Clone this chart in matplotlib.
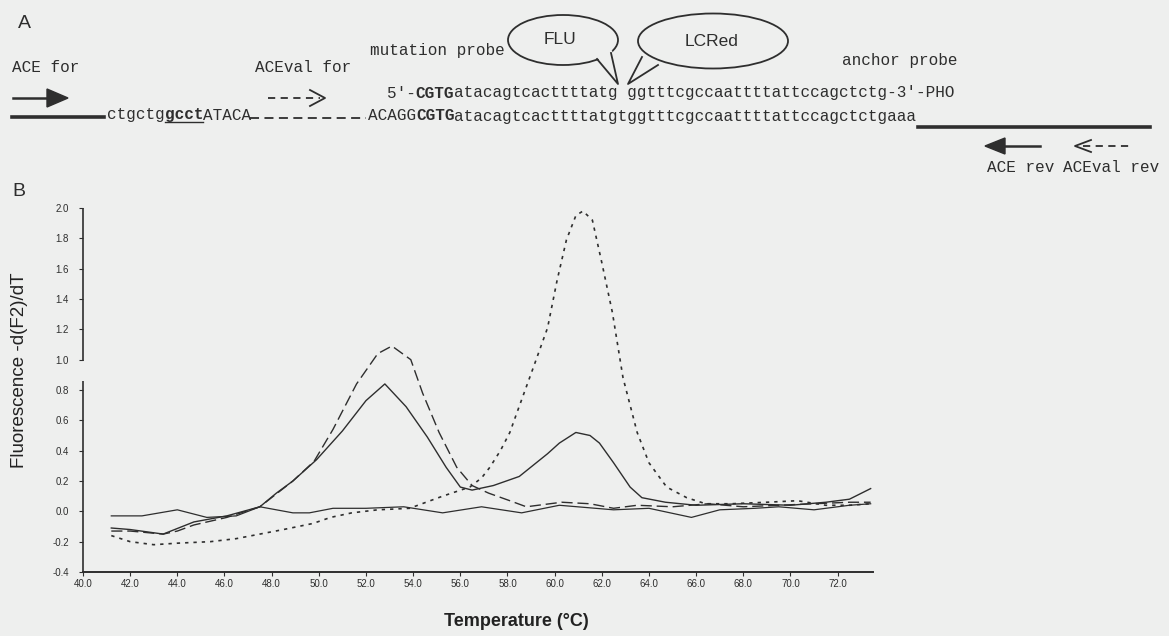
import matplotlib
matplotlib.use("Agg")
import matplotlib.pyplot as plt
from matplotlib.patches import Ellipse, Polygon

# ---------------- data ----------------
het_T = [41.2, 42.0, 43.4, 44.7, 46.1, 47.5, 48.2, 48.9, 49.9, 51.0, 52.0, 52.8, 53.7, 54.6, 55.4,
         56.0, 56.5, 57.4, 58.5, 59.7, 60.2, 60.9, 61.5, 61.9, 62.5, 63.2, 63.7, 64.7, 66.0, 68.0,
         70.0, 71.5, 72.5, 73.4]
het_v = [-0.11, -0.12, -0.15, -0.07, -0.03, 0.03, 0.12, 0.20, 0.34, 0.53, 0.73, 0.84, 0.69, 0.49, 0.29,
         0.16, 0.14, 0.17, 0.23, 0.38, 0.45, 0.52, 0.50, 0.45, 0.32, 0.16, 0.09, 0.06, 0.04, 0.05,
         0.04, 0.06, 0.08, 0.15]

mut_T = [41.2, 42.0, 43.4, 44.0, 44.7, 46.1, 47.5, 48.9, 49.8, 50.6, 51.6, 52.5, 53.1, 53.9, 54.4,
         55.1, 55.85, 56.5, 57.2, 58.1, 58.8, 60.3, 61.5, 62.5, 63.5, 65.0, 66.5, 68.0, 69.5, 71.0,
         72.5, 73.4]
mut_v = [-0.13, -0.13, -0.15, -0.13, -0.09, -0.04, 0.03, 0.20, 0.33, 0.54, 0.84, 1.04, 1.09, 1.00, 0.78,
         0.52, 0.29, 0.17, 0.12, 0.07, 0.03, 0.06, 0.05, 0.02, 0.04, 0.03, 0.05, 0.03, 0.04, 0.05,
         0.06, 0.06]

wt_T = [41.2, 42.0, 43.0, 44.0, 45.4, 46.5, 47.5, 48.5, 49.75, 50.5, 51.4, 52.5, 53.85, 55.25, 56.4,
        56.9, 57.25, 57.7, 58.1, 58.4, 59.1, 59.7, 60.1, 60.5, 60.9, 61.2, 61.6, 62.0, 62.45, 62.9,
        63.5, 64.0, 64.75, 65.6, 66.4, 67.5, 69.0, 70.3, 71.5, 72.5, 73.4]
wt_v = [-0.16, -0.20, -0.22, -0.21, -0.20, -0.18, -0.15, -0.12, -0.08, -0.04, -0.01, 0.01, 0.02, 0.10, 0.16,
        0.22, 0.29, 0.40, 0.52, 0.65, 0.95, 1.21, 1.52, 1.79, 1.95, 1.98, 1.92, 1.64, 1.31, 0.88,
        0.52, 0.32, 0.16, 0.09, 0.05, 0.05, 0.06, 0.07, 0.04, 0.04, 0.05]

ntc_T = [41.2, 42.5, 44.0, 45.25, 46.5, 47.5, 48.9, 49.6, 50.6, 52.0, 53.6, 55.25, 56.9, 58.6, 60.2,
         62.5, 64.0, 65.8, 67.0, 68.5, 69.5, 71.0, 72.5, 73.4]
ntc_v = [-0.03, -0.03, 0.01, -0.04, -0.03, 0.03, -0.01, -0.01, 0.02, 0.02, 0.03, -0.01, 0.03, -0.01, 0.04,
         0.01, 0.02, -0.04, 0.01, 0.02, 0.03, 0.01, 0.04, 0.05]

x_ticks = [40.0, 42.0, 44.0, 46.0, 48.0, 50.0, 52.0, 54.0, 56.0, 58.0, 60.0, 62.0, 64.0, 66.0, 68.0, 70.0, 72.0]
y_ticks = [-0.4, -0.2, 0.0, 0.2, 0.4, 0.6, 0.8, 1.0, 1.2, 1.4, 1.6, 1.8, 2.0]

BG = "#eeefee"
INK = "#2e2e2e"
W, H = 1169, 636

fig = plt.figure(figsize=(W / 100, H / 100), dpi=100, facecolor=BG)

# ---------------- panel B: melting curves ----------------
ax = fig.add_axes([83 / W, 1 - 572 / H, (873 - 83) / W, (572 - 208) / H])
ax.set_facecolor("none")
ax.plot(het_T, het_v, color=INK, lw=1.0, ls="-")
ax.plot(mut_T, mut_v, color=INK, lw=1.0, dashes=(8, 3.5))
ax.plot(wt_T, wt_v, color=INK, lw=1.2, dashes=(2.0, 3.0))
ax.plot(ntc_T, ntc_v, color=INK, lw=0.9, ls="-")

ax.set_xlim(40, 73.5)
ax.set_ylim(-0.4, 2.0)
for s in ["top", "right", "left"]:
    ax.spines[s].set_visible(False)
ax.spines["bottom"].set_linewidth(1.4)
ax.spines["bottom"].set_color(INK)
# broken y axis line
ax.plot([40, 40], [-0.4, 0.86], color=INK, lw=1.2, clip_on=False, solid_capstyle="butt")
ax.plot([40, 40], [0.99, 2.0], color=INK, lw=1.2, clip_on=False, solid_capstyle="butt")

ax.set_xticks(x_ticks)
ax.set_xticklabels([f"{t:.1f}" for t in x_ticks])
ax.set_yticks(y_ticks)
ax.set_yticklabels([f"{t:.1f}" for t in y_ticks])
ax.tick_params(axis="both", labelsize=7, colors=INK, width=0.8)
ax.tick_params(axis="y", length=3, pad=7)
ax.tick_params(axis="x", length=3, pad=2)
for lab in ax.get_xticklabels() + ax.get_yticklabels():
    lab.set_family("Liberation Sans")

fig.text(20 / W, 1 - 370 / H, "Fluorescence -d(F2)/dT", rotation=90, ha="center", va="center",
         fontsize=13.5, family="Liberation Sans", color="#222222")
fig.text(516 / W, 1 - 622 / H, "Temperature (\u00b0C)", ha="center", va="center",
         fontsize=13, family="Liberation Sans", fontweight="bold", color="#222222")

# ---------------- panel A: schematic (pixel coordinates) ----------------
axd = fig.add_axes([0, 0, 1, 1])
axd.set_xlim(0, W)
axd.set_ylim(H, 0)
axd.axis("off")
axd.set_facecolor("none")

FS = 11.5
CW = 0.6 * FS * 100 / 72  # monospace advance in pixels
MONO = "Liberation Mono"


def seq(x, y, parts, fs=FS):
    cx = x
    for s, bold, under in parts:
        axd.text(cx, y, s, family=MONO, fontsize=fs, fontweight="bold" if bold else "normal",
                 ha="left", va="center", color=INK)
        if under:
            axd.plot([cx, cx + len(s) * CW], [y + 7, y + 7], color=INK, lw=1.0)
        cx += len(s) * CW
    return cx


axd.text(18, 23, "A", family="Liberation Sans", fontsize=14, ha="left", va="center", color=INK)
axd.text(12, 191, "B", family="Liberation Sans", fontsize=14, ha="left", va="center", color=INK)

# ACE for
seq(12, 68, [("ACE for", False, False)])
axd.plot([13, 50], [98, 98], color=INK, lw=1.8)
axd.add_patch(Polygon([[47, 89], [68, 98], [47, 107]], closed=True, color=INK))
axd.plot([12, 104], [117, 117], color=INK, lw=2.6)
seq(107, 115, [("ctgctg", False, False), ("gcct", True, True), ("ATACA", False, False)])

# ACEval for
seq(255, 68, [("ACEval for", False, False)])
axd.plot([268, 320], [98, 98], color=INK, lw=1.3, dashes=(4, 3))
axd.plot([310, 325, 310], [90, 98, 106], color=INK, lw=1.3)
axd.plot([250, 366], [118, 118], color=INK, lw=1.3, dashes=(5, 3))

# probes
seq(370, 50, [("mutation probe", False, False)])
seq(387, 93, [("5'-", False, False), ("CGTG", True, False),
              ("atacagtcacttttatg ggtttcgccaattttattccagctctg-3'-PHO", False, False)])
seq(368, 116, [("ACAGG", False, False), ("CGTG", True, False),
               ("atacagtcacttttatgtggtttcgccaattttattccagctctgaaa", False, False)])
seq(842, 60, [("anchor probe", False, False)])
axd.plot([918, 1150], [127, 127], color=INK, lw=2.6)

# callout bubbles
axd.add_patch(Ellipse((563, 40), 110, 50, facecolor=BG, edgecolor=INK, lw=1.3, zorder=3))
axd.add_patch(Polygon([[596, 56], [618, 84], [612, 50]], closed=True, facecolor=BG, edgecolor="none", zorder=4))
axd.plot([597, 618, 611], [59, 84, 53], color=INK, lw=1.3, zorder=5)
axd.text(560, 40, "FLU", family="Liberation Sans", fontsize=12.5, ha="center", va="center", color=INK, zorder=6)

axd.add_patch(Ellipse((713, 41), 150, 55, facecolor=BG, edgecolor=INK, lw=1.3, zorder=3))
axd.add_patch(Polygon([[640, 54], [628, 84], [659, 62]], closed=True, facecolor=BG, edgecolor="none", zorder=4))
axd.plot([642, 628, 658], [57, 84, 65], color=INK, lw=1.3, zorder=5)
axd.text(712, 42, "LCRed", family="Liberation Sans", fontsize=12.5, ha="center", va="center", color=INK, zorder=6)

# reverse primers
axd.add_patch(Polygon([[985, 146], [1005, 138], [1005, 154]], closed=True, color=INK))
axd.plot([1003, 1040], [146, 146], color=INK, lw=1.8)
axd.plot([1091, 1075, 1091], [140, 146, 152], color=INK, lw=1.3)
axd.plot([1083, 1132], [146, 146], color=INK, lw=1.3, dashes=(4, 3))
seq(987, 168, [("ACE rev", False, False)])
seq(1063, 168, [("ACEval rev", False, False)])

fig.savefig("out.png", dpi=100, facecolor=BG)
